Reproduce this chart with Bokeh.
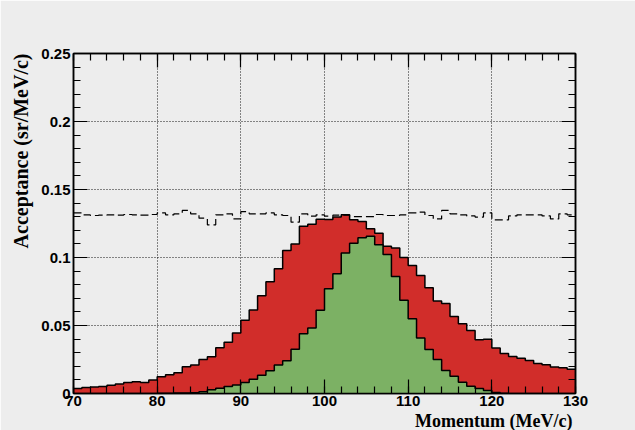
from bokeh.plotting import figure
from bokeh.models import FixedTicker, LinearAxis, Title, Range1d
from bokeh.embed import file_html
from bokeh.resources import INLINE

# ---- data ----
bin_edges_start = 70
bin_width = 1
red_values = [
    0.0036, 0.0045, 0.0047, 0.0051, 0.0060, 0.0070, 0.0081, 0.0087, 0.0080, 0.0099,
    0.0124, 0.0138, 0.0153, 0.0197, 0.0210, 0.0250, 0.0271, 0.0336, 0.0377, 0.0445,
    0.0538, 0.0614, 0.0719, 0.0822, 0.0917, 0.1051, 0.1100, 0.1230, 0.1245, 0.1282,
    0.1280, 0.1298, 0.1314, 0.1277, 0.1265, 0.1211, 0.1179, 0.1083, 0.1069, 0.1000,
    0.0941, 0.0868, 0.0777, 0.0681, 0.0662, 0.0567, 0.0512, 0.0463, 0.0395, 0.0399,
    0.0335, 0.0295, 0.0272, 0.0260, 0.0243, 0.0220, 0.0211, 0.0195, 0.0189, 0.0178,
]
green_values = [
    0.0, 0.0, 0.0, 0.0, 0.0, 0.0, 0.0, 0.0, 0.0, 0.0,
    0.0002, 0.0002, 0.0003, 0.0004, 0.0005, 0.0012, 0.0027, 0.0038, 0.0052, 0.0062,
    0.0080, 0.0105, 0.0135, 0.0167, 0.0210, 0.0240, 0.0326, 0.0439, 0.0481, 0.0612,
    0.0770, 0.0880, 0.1034, 0.1105, 0.1145, 0.1157, 0.1093, 0.1022, 0.0860, 0.0686,
    0.0549, 0.0409, 0.0324, 0.0250, 0.0169, 0.0127, 0.0083, 0.0054, 0.0037, 0.0022,
    0.0008, 0.0002, 0.0, 0.0, 0.0, 0.0, 0.0, 0.0, 0.0, 0.0,
]
dashed_values = [
    0.1328, 0.1314, 0.1309, 0.1311, 0.1314, 0.1311, 0.1316, 0.1314, 0.1311, 0.1316,
    0.1328, 0.1314, 0.1321, 0.1346, 0.1321, 0.1289, 0.1240, 0.1314, 0.1321, 0.1284,
    0.1338, 0.1321, 0.1321, 0.1328, 0.1314, 0.1309, 0.1260, 0.1321, 0.1304, 0.1314,
    0.1304, 0.1311, 0.1311, 0.1301, 0.1301, 0.1301, 0.1316, 0.1309, 0.1309, 0.1314,
    0.1328, 0.1333, 0.1309, 0.1284, 0.1346, 0.1321, 0.1314, 0.1306, 0.1297, 0.1328,
    0.1277, 0.1277, 0.1306, 0.1314, 0.1314, 0.1314, 0.1306, 0.1284, 0.1321, 0.1314,
]
x_ticks = [70, 80, 90, 100, 110, 120, 130]
y_ticks = [0, 0.05, 0.1, 0.15, 0.2, 0.25]
y_tick_labels = ["0", "0.05", "0.1", "0.15", "0.2", "0.25"]
x_title = "Momentum (MeV/c)"
y_title = "Acceptance (sr/MeV/c)"

n = len(red_values)
edges = [bin_edges_start + i * bin_width for i in range(n + 1)]


def hist_outline(vals):
    xs, ys = [edges[0]], [0.0]
    for i, v in enumerate(vals):
        xs += [edges[i], edges[i + 1]]
        ys += [v, v]
    xs.append(edges[-1])
    ys.append(0.0)
    return xs, ys


BG = "#ededed"
RED = "#d12d2a"
GREEN = "#7cb164"

p = figure(width=635, height=430, output_backend="svg", toolbar_location=None,
           x_range=Range1d(70, 130), y_range=Range1d(0, 0.25),
           min_border_left=73, min_border_right=60, min_border_top=53, min_border_bottom=37,
           background_fill_color=BG, border_fill_color=BG)
p.outline_line_color = "black"
p.outline_line_width = 1.5

# histograms
rx, ry = hist_outline(red_values)
p.patch(rx, ry, fill_color=RED, line_color=None)
p.line(rx, ry, line_color="black", line_width=1.5)

gx, gy = hist_outline(green_values)
p.patch(gx, gy, fill_color=GREEN, line_color=None)
p.line(gx, gy, line_color="black", line_width=1.5)

p.step(edges, dashed_values + [dashed_values[-1]], mode="after",
       line_color="black", line_width=1.2, line_dash="8 4")

# axes
x_minor = [70 + 2 * i for i in range(31)]
y_minor = [round(0.01 * i, 2) for i in range(26)]


def style_axis(ax, labels=True):
    ax.axis_line_color = "black"
    ax.axis_line_width = 1.5
    ax.major_tick_in = 14
    ax.major_tick_out = 0
    ax.minor_tick_in = 7
    ax.minor_tick_out = 0
    ax.major_tick_line_color = "black"
    ax.minor_tick_line_color = "black"
    ax.major_tick_line_width = 1.2
    ax.minor_tick_line_width = 1.2
    ax.major_label_text_font = "Liberation Sans"
    ax.major_label_text_font_style = "bold"
    ax.major_label_text_font_size = "15px"
    ax.major_label_text_color = "black" if labels else None
    ax.major_label_standoff = 3


xt = FixedTicker(ticks=x_ticks, minor_ticks=x_minor)
yt = FixedTicker(ticks=y_ticks, minor_ticks=y_minor)

p.xaxis.ticker = xt
p.yaxis.ticker = yt
p.yaxis.major_label_overrides = {t: l for t, l in zip(y_ticks, y_tick_labels)}
style_axis(p.xaxis[0])
style_axis(p.yaxis[0])
p.xaxis[0].major_label_standoff = 2

top = LinearAxis(ticker=FixedTicker(ticks=x_ticks, minor_ticks=x_minor))
style_axis(top, labels=False)
top.major_label_text_font_size = "0px"
p.add_layout(top, "above")
right = LinearAxis(ticker=FixedTicker(ticks=y_ticks, minor_ticks=y_minor))
style_axis(right, labels=False)
right.major_label_text_font_size = "0px"
p.add_layout(right, "right")

# grid
for g in (p.xgrid[0], p.ygrid[0]):
    g.grid_line_color = "black"
    g.grid_line_dash = "1 2"
    g.grid_line_width = 1
    g.grid_line_alpha = 0.9
p.xgrid.ticker = xt
p.ygrid.ticker = yt

# titles
p.add_layout(Title(text=x_title, align="right", text_font="Liberation Serif",
                   text_font_style="bold", text_font_size="18px", text_color="black",
                   standoff=0, offset=3), "below")
p.add_layout(Title(text=y_title, align="right", text_font="Liberation Serif",
                   text_font_style="bold", text_font_size="20px", text_color="black",
                   standoff=13, offset=0), "left")

open("out.html", "w").write(file_html(p, INLINE))
